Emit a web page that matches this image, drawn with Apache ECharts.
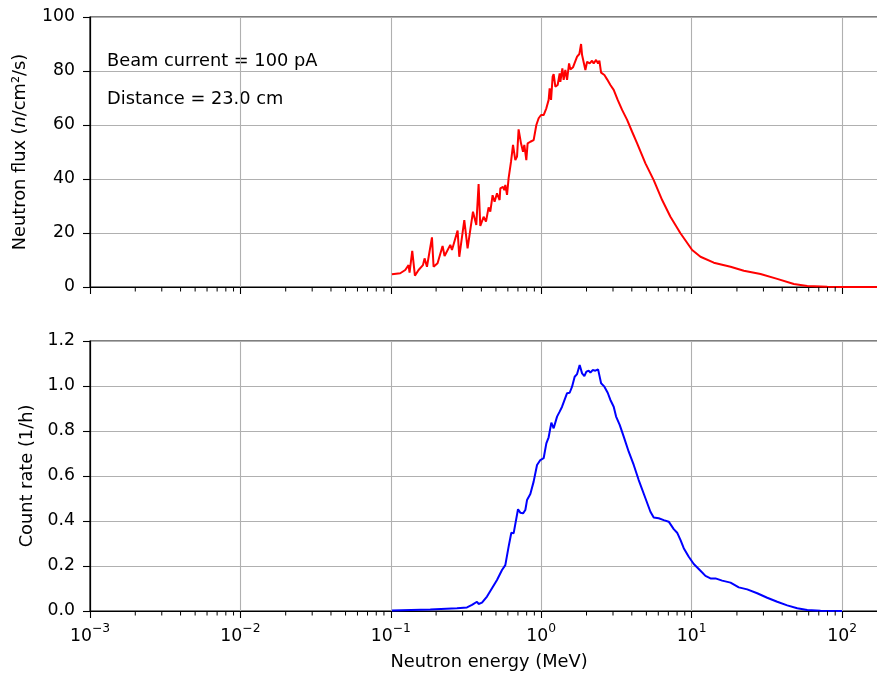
<!DOCTYPE html>
<html>
<head>
<meta charset="utf-8">
<script src="https://cdn.jsdelivr.net/npm/echarts@6/dist/echarts.min.js"></script>
<style>html,body{margin:0;padding:0;background:#fff;}#c{width:877px;height:675px;}</style>
</head>
<body>
<div id="c"></div>
<script>
// Neutron flux spectrum (top panel)
const fluxEnergy = [0.1017,0.1155,0.1247,0.1312,0.1332,0.1388,0.1446,0.1529,0.1635,0.1676,0.1739,0.1877,0.1924,0.2045,0.2208,0.2277,0.2485,0.2550,0.2779,0.2852,0.3079,0.3238,0.3517,0.3700,0.3833,0.3934,0.4138,0.4292,0.4467,0.4585,0.4749,0.4897,0.5080,0.5287,0.5344,0.5570,0.5682,0.5770,0.5923,0.6069,0.6296,0.6492,0.6725,0.6902,0.7071,0.7336,0.7567,0.7719,0.7958,0.8118,0.8462,0.8901,0.9277,0.9610,0.9970,1.0375,1.0812,1.1200,1.1373,1.1620,1.1907,1.2092,1.2411,1.2856,1.3256,1.3400,1.3817,1.4093,1.4464,1.4848,1.5311,1.5618,1.6279,1.7305,1.7926,1.8399,1.8685,1.9147,1.9652,2.0171,2.0989,2.1777,2.2320,2.3153,2.3874,2.4357,2.4999,2.6291,2.7405,2.8824,3.0319,3.2230,3.4481,3.7234,4.0190,4.3397,4.9281,5.5945,6.3652,7.2245,8.4235,10.076,11.446,14.03,18.13,22.22,28.70,37.05,47.79,58.68,79.73,100,202];
const fluxValue = [4.7,5.1,6.3,8.1,5.3,13.4,4.2,6.3,8.1,10.6,7.5,18.4,7.5,8.8,15.2,11.5,15.6,13.7,20.9,11.2,24.8,14.3,27.9,23.0,38.1,22.6,26.0,24.2,29.5,27.9,34.0,31.6,34.7,32.2,36.5,37.1,35.9,37.8,34.1,40.3,46.4,52.6,47.0,48.3,58.4,53.2,50.1,52.6,47.0,53.2,53.8,54.4,60.0,62.5,63.7,63.7,66.2,69.3,73.6,69.3,77.9,78.8,74.2,74.8,79.1,76.0,81.0,76.7,80.4,76.7,82.8,80.6,81.4,85.3,86.3,90.0,85.9,85.6,80.4,83.4,82.8,83.8,82.8,84.1,82.8,83.8,79.4,78.5,76.9,74.8,73.0,69.3,65.6,61.9,57.5,53.2,45.8,39.6,32.2,26.0,19.9,13.7,11.2,9.0,7.5,6.0,4.8,3.0,1.1,0.4,0.1,0,0];

// Detector count rate (bottom panel)
const rateEnergy = [0.1017,0.1829,0.2754,0.3209,0.3464,0.3740,0.3833,0.4037,0.4358,0.4706,0.5080,0.5485,0.5770,0.6069,0.6325,0.6552,0.6725,0.7007,0.7257,0.7567,0.7838,0.8045,0.8462,0.8901,0.9376,0.9863,1.0375,1.0812,1.1200,1.1674,1.2092,1.2738,1.3256,1.3753,1.4093,1.4848,1.5453,1.6030,1.6680,1.7305,1.8009,1.8685,1.9355,1.9958,2.0673,2.1217,2.1979,2.2909,2.3874,2.4999,2.6291,2.7659,2.8824,3.0319,3.1453,3.3234,3.5346,3.8154,4.1199,4.4463,4.9281,5.3193,5.5945,6.0395,6.5238,7.0392,7.6014,8.0077,8.4235,8.8595,9.5655,10.327,11.446,12.355,13.343,14.398,15.952,18.13,20.58,23.41,27.28,31.79,37.05,43.19,50.34,58.68,71.94,100];
const rateValue = [0.002,0.007,0.012,0.016,0.027,0.041,0.031,0.037,0.064,0.101,0.138,0.182,0.204,0.286,0.348,0.345,0.352,0.452,0.437,0.434,0.449,0.493,0.520,0.575,0.649,0.671,0.679,0.745,0.772,0.837,0.812,0.864,0.886,0.908,0.916,0.968,0.970,0.997,1.041,1.053,1.093,1.056,1.044,1.064,1.068,1.059,1.071,1.068,1.074,1.012,0.997,0.970,0.938,0.908,0.864,0.827,0.775,0.708,0.649,0.582,0.501,0.441,0.416,0.412,0.404,0.397,0.364,0.348,0.316,0.279,0.241,0.209,0.179,0.156,0.145,0.145,0.135,0.126,0.105,0.096,0.079,0.059,0.041,0.025,0.012,0.004,0.001,0];

const xMin = 0.001, xMax = 202;
const fluxTicks = [0,20,40,60,80,100];
const rateTicks = [0,0.2,0.4,0.6,0.8,1.0,1.2];
const minorTicks = [0.002,0.003,0.004,0.005,0.006,0.007,0.008,0.009,
  0.02,0.03,0.04,0.05,0.06,0.07,0.08,0.09,
  0.2,0.3,0.4,0.5,0.6,0.7,0.8,0.9,
  2,3,4,5,6,7,8,9,
  20,30,40,50,60,70,80,90,
  200];
const annotations = ['Beam current = 100 pA','Distance = 23.0 cm'];

const FONT = 'DejaVu Sans';
const FS = 17.3;   // tick labels
const LFS = 17.8;  // axis titles and annotations
const chart = echarts.init(document.getElementById('c'), null, {renderer:'canvas'});

function zip(a,b){return a.map((v,i)=>[v,b[i]]);}

const gridCommon = {left:90, right:-11, height:270, show:true, borderColor:'#000', borderWidth:1.2,
  containLabel:false, outerBoundsMode:'none'};

function xAxisFor(idx, showLabels){
  return {
    type:'log', logBase:10, gridIndex:idx, min:xMin, max:xMax,
    axisLine:{show:true, onZero:false, lineStyle:{color:'#000', width:1.2}},
    axisTick:{show:true, inside:false, length:7, lineStyle:{color:'#000', width:1.1}},
    splitLine:{show:true, lineStyle:{color:'#b0b0b0', width:1.1}},
    minorTick:{show:false}, minorSplitLine:{show:false},
    axisLabel:{show:showLabels, showMaxLabel:false, margin:12, fontFamily:FONT, fontSize:FS, color:'#000',
      formatter:function(v){
        const k = Math.round(Math.log10(v));
        const s = k<0 ? '−'+(-k) : ''+k;
        return '{b|10}{s|'+s+'}';
      },
      rich:{b:{fontFamily:FONT,fontSize:FS,color:'#000',verticalAlign:'bottom',lineHeight:22},
            s:{fontFamily:FONT,fontSize:12.3,color:'#000',verticalAlign:'top',lineHeight:22,padding:[0,0,11,0]}}},
    name: showLabels ? 'Neutron energy (MeV)' : '',
    nameLocation:'middle', nameGap:42,
    nameTextStyle:{fontFamily:FONT, fontSize:LFS, color:'#000'}
  };
}

function yAxisFor(idx, max, interval, dec, nameRich, gap){
  return {
    type:'value', gridIndex:idx, min:0, max:max, interval:interval,
    axisLine:{show:true, lineStyle:{color:'#000', width:1.2}},
    axisTick:{show:true, inside:false, length:7, lineStyle:{color:'#000', width:1.1}},
    splitLine:{show:true, lineStyle:{color:'#b0b0b0', width:1.1}},
    axisLabel:{margin:15, fontFamily:FONT, fontSize:FS, color:'#000',
      formatter:function(v){return v.toFixed(dec);}},
    name:nameRich, nameLocation:'middle', nameGap:gap, nameRotate:90,
    nameTextStyle:{fontFamily:FONT, fontSize:LFS, color:'#000',
      rich:{r:{fontFamily:FONT,fontSize:LFS,color:'#000'}, i:{fontFamily:FONT,fontSize:LFS,fontStyle:'italic',color:'#000'}}}
  };
}

function minorTickSeries(xi, yi){
  return {
    type:'custom', xAxisIndex:xi, yAxisIndex:yi, silent:true, clip:false, z:5,
    data: minorTicks.map(v=>[v,0]),
    renderItem:function(params, api){
      const p = api.coord([api.value(0), 0]);
      return {type:'line', shape:{x1:p[0], y1:p[1], x2:p[0], y2:p[1]+4.5}, style:{stroke:'#000', lineWidth:1}};
    }
  };
}

const option = {
  backgroundColor:'#fff',
  animation:false,
  grid:[Object.assign({top:17}, gridCommon), Object.assign({top:341}, gridCommon)],
  xAxis:[xAxisFor(0,false), xAxisFor(1,true)],
  yAxis:[
    yAxisFor(0, 100, 20, 0, '{r|Neutron flux (}{i|n}{r|/cm²/s)}', 61),
    yAxisFor(1, 1.2, 0.2, 1, '{r|Count rate (1/h)}', 53)
  ],
  graphic: annotations.map((t,i)=>({type:'text', left:107, top:52+i*38, silent:true,
    style:{text:t, font:LFS+'px "'+FONT+'"', fill:'#000'}})),
  series:[
    {type:'line', xAxisIndex:0, yAxisIndex:0, data:zip(fluxEnergy, fluxValue), showSymbol:false, symbol:'none',
     lineStyle:{color:'#ff0000', width:2}, itemStyle:{color:'#ff0000'}, z:3},
    {type:'line', xAxisIndex:1, yAxisIndex:1, data:zip(rateEnergy, rateValue), showSymbol:false, symbol:'none',
     lineStyle:{color:'#0000ff', width:2}, itemStyle:{color:'#0000ff'}, z:3},
    minorTickSeries(0,0),
    minorTickSeries(1,1)
  ]
};
chart.setOption(option);
</script>
</body>
</html>
